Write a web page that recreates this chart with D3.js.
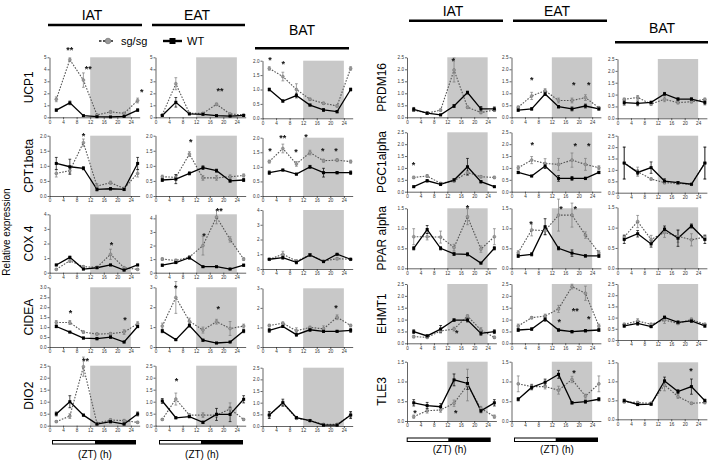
<!DOCTYPE html>
<html><head><meta charset="utf-8">
<script src="https://cdn.jsdelivr.net/npm/d3@7"></script>
<style>body{margin:0;background:#fff}svg{font-family:"Liberation Sans",Arial,sans-serif}</style>
</head><body><svg id="c" width="709" height="460"><defs><filter id="flat" x="0" y="0" width="1" height="1"><feOffset dx="0" dy="0"/></filter></defs></svg>
<script>
// ---------------- DATA ----------------
const ZT = [2, 6, 10, 14, 18, 22, 26];
const xTicks = [0, 4, 8, 12, 16, 20, 24];
const tissues = ["IAT", "EAT", "BAT"];
const genesLeft = ["UCP1", "CPT1beta", "COX 4", "CIDEA", "DIO2"];
const genesRight = ["PRDM16", "PGC1alpha", "PPAR alpha", "EHMT1", "TLE3"];
const seriesNames = ["sg/sg", "WT"];

// each: [IAT, EAT, BAT]
const UCP1_WT = [[0.6,1.2,0.14,0.05,0.03,0.08,0.6],[0.15,1.25,0.28,0.25,0.14,0.1,0.15],[1.0,0.6,0.79,0.46,0.29,0.23,1.0]];
const UCP1_SG = [[1.5,4.8,3.1,0.2,0.45,0.33,1.4],[0.2,2.8,0.33,0.33,1.08,0.28,0.2],[1.73,1.45,1.0,0.66,0.52,0.43,1.73]];
const UCP1_WT_ERR = [[0.1,0.15,0.03,0.03,0.02,0.03,0.1],[0.05,0.4,0.05,0.05,0.03,0.03,0.05],[0.05,0.04,0.08,0.03,0.05,0.04,0.05]];
const UCP1_SG_ERR = [[0.2,0.15,0.6,0.05,0.1,0.05,0.2],[0.05,0.5,0.05,0.05,0.1,0.05,0.05],[0.06,0.15,0.2,0.04,0.04,0.04,0.06]];

const CPT1_WT = [[1.08,0.97,0.92,0.22,0.24,0.22,1.08],[0.53,0.56,0.75,0.94,0.84,0.5,0.53],[0.8,0.89,0.75,1.0,0.8,0.8,0.8]];
const CPT1_SG = [[0.75,0.84,1.77,0.33,0.44,0.25,0.75],[0.64,0.62,1.39,0.6,0.6,0.64,0.68],[1.18,1.63,1.1,1.49,1.21,1.23,1.18]];
const CPT1_WT_ERR = [[0.2,0.25,0.05,0.05,0.04,0.04,0.2],[0.05,0.15,0.05,0.06,0.05,0.04,0.05],[0.06,0.03,0.03,0.05,0.15,0.04,0.06]];
const CPT1_SG_ERR = [[0.12,0.08,0.12,0.08,0.05,0.04,0.12],[0.05,0.08,0.08,0.08,0.08,0.06,0.05],[0.05,0.15,0.08,0.08,0.05,0.05,0.05]];

const COX4_WT = [[0.53,1.05,0.25,0.34,0.53,0.18,0.53],[0.55,0.75,1.1,0.44,0.44,0.27,0.55],[0.66,0.77,0.45,0.95,0.5,1.0,0.66]];
const COX4_SG = [[0.23,0.82,0.41,0.37,1.26,0.34,0.23],[1.0,0.9,1.15,2.0,4.1,2.45,1.0],[0.66,1.0,0.54,0.95,0.54,0.7,0.66]];
const COX4_WT_ERR = [[0.05,0.08,0.05,0.05,0.05,0.05,0.05],[0.08,0.08,0.1,0.05,0.05,0.05,0.08],[0.05,0.1,0.1,0.1,0.05,0.05,0.05]];
const COX4_SG_ERR = [[0.05,0.12,0.08,0.06,0.35,0.06,0.05],[0.1,0.1,0.1,0.7,0.5,0.2,0.1],[0.05,0.2,0.08,0.1,0.05,0.08,0.05]];

const CIDEA_WT = [[1.03,0.75,0.45,0.42,0.5,0.25,1.03],[0.8,0.37,1.08,0.34,0.2,0.25,0.8],[0.85,1.05,0.63,0.88,0.8,0.8,0.85]];
const CIDEA_SG = [[1.23,1.23,0.75,0.65,0.67,0.75,1.17],[1.05,2.49,1.3,0.85,1.27,0.93,1.05],[1.1,1.22,0.83,1.0,0.93,1.52,1.1]];
const CIDEA_WT_ERR = [[0.06,0.03,0.05,0.06,0.06,0.04,0.06],[0.08,0.05,0.08,0.05,0.03,0.03,0.08],[0.1,0.05,0.08,0.08,0.06,0.05,0.1]];
const CIDEA_SG_ERR = [[0.1,0.1,0.06,0.06,0.06,0.12,0.1],[0.15,0.8,0.15,0.15,0.12,0.35,0.1],[0.06,0.06,0.15,0.06,0.15,0.12,0.06]];

const DIO2_WT = [[0.49,1.0,0.44,0.07,0.17,0.07,0.49],[1.03,0.33,0.38,0.14,0.47,0.47,1.1],[0.47,1.0,0.36,0.23,0.04,0.04,0.47]];
const DIO2_SG = [[0.17,0.4,2.46,0.1,0.24,0.21,0.14],[0.26,1.11,0.44,0.44,0.44,0.7,0.26],[0.47,0.97,0.33,0.23,0.07,0.07,0.47]];
const DIO2_WT_ERR = [[0.08,0.25,0.04,0.04,0.05,0.04,0.08],[0.1,0.04,0.05,0.05,0.25,0.3,0.15],[0.15,0.15,0.05,0.03,0.03,0.03,0.15]];
const DIO2_SG_ERR = [[0.04,0.1,0.4,0.04,0.05,0.05,0.04],[0.04,0.25,0.06,0.1,0.1,0.25,0.04],[0.1,0.1,0.05,0.03,0.03,0.03,0.1]];

const PRDM16_WT = [[0.33,0.17,0.1,0.47,1.03,0.35,0.35],[0.3,0.35,0.97,0.44,0.35,0.47,0.35],[0.66,0.63,0.67,1.03,0.81,0.81,0.67]];
const PRDM16_SG = [[0.3,0.17,0.3,1.97,0.42,0.2,0.3],[0.42,0.89,1.11,0.7,0.7,0.82,0.4],[0.8,0.88,0.6,0.8,0.66,0.7,0.8]];
const PRDM16_WT_ERR = [[0.08,0.05,0.03,0.06,0.06,0.1,0.08],[0.05,0.05,0.06,0.05,0.08,0.08,0.05],[0.1,0.1,0.05,0.06,0.05,0.05,0.1]];
const PRDM16_SG_ERR = [[0.05,0.05,0.05,0.5,0.05,0.05,0.05],[0.05,0.15,0.08,0.1,0.1,0.12,0.05],[0.05,0.08,0.05,0.1,0.05,0.05,0.05]];

const PGC1_WT = [[0.21,0.46,0.31,0.49,1.05,0.42,0.21],[0.81,0.66,1.08,0.56,0.56,0.56,0.81],[1.3,0.89,1.1,0.51,0.44,0.37,1.3]];
const PGC1_SG = [[0.6,0.66,0.35,0.45,0.81,0.63,0.6],[1.01,1.33,1.19,1.15,1.33,1.15,1.01],[1.3,0.92,0.6,0.44,0.41,0.37,1.3]];
const PGC1_WT_ERR = [[0.03,0.05,0.05,0.06,0.35,0.05,0.03],[0.05,0.03,0.1,0.12,0.08,0.05,0.05],[0.7,0.1,0.25,0.1,0.05,0.03,0.7]];
const PGC1_SG_ERR = [[0.05,0.06,0.04,0.05,0.08,0.05,0.05],[0.08,0.15,0.2,0.25,0.3,0.25,0.08],[0.7,0.2,0.05,0.05,0.05,0.03,0.7]];

const PPAR_WT = [[0.5,0.97,0.5,0.36,0.35,0.13,0.5],[0.31,0.35,1.04,0.5,0.38,0.31,0.31],[0.71,0.85,0.6,0.96,0.74,1.04,0.71]];
const PPAR_SG = [[0.79,0.79,0.78,0.52,1.29,0.48,0.79],[0.39,0.96,0.94,1.33,1.33,0.83,0.39],[0.77,1.15,0.71,0.88,0.79,0.7,0.77]];
const PPAR_WT_ERR = [[0.04,0.1,0.04,0.04,0.04,0.02,0.04],[0.04,0.04,0.2,0.04,0.08,0.03,0.04],[0.1,0.08,0.08,0.08,0.2,0.05,0.1]];
const PPAR_SG_ERR = [[0.2,0.08,0.15,0.08,0.2,0.08,0.2],[0.05,0.15,0.1,0.4,0.3,0.08,0.05],[0.05,0.15,0.1,0.12,0.15,0.15,0.05]];

const EHMT1_WT = [[0.49,0.31,0.6,0.98,0.98,0.42,0.49],[0.56,0.6,1.01,0.56,0.49,0.53,0.56],[0.63,0.74,0.6,1.01,0.79,0.85,0.63]];
const EHMT1_SG = [[0.28,0.25,0.52,0.6,1.15,0.56,0.25],[0.73,1.08,1.15,1.45,2.39,2.11,0.73],[0.7,0.85,0.7,0.89,0.74,0.92,0.7]];
const EHMT1_WT_ERR = [[0.08,0.05,0.15,0.05,0.08,0.08,0.08],[0.06,0.05,0.08,0.05,0.05,0.05,0.06],[0.06,0.08,0.05,0.06,0.06,0.06,0.06]];
const EHMT1_SG_ERR = [[0.05,0.05,0.08,0.08,0.05,0.1,0.05],[0.08,0.05,0.08,0.15,0.1,0.3,0.08],[0.05,0.1,0.05,0.15,0.05,0.06,0.05]];

const TLE3_WT = [[0.46,0.39,0.36,1.04,0.95,0.26,0.46],[0.55,0.85,0.98,1.18,0.46,0.49,0.55],[0.49,0.39,0.4,1.01,0.73,0.86,0.49]];
const TLE3_SG = [[0.11,0.26,0.28,0.45,0.91,0.32,0.11],[0.94,0.87,0.87,0.78,1.05,0.63,0.94],[0.46,0.44,0.42,0.9,0.6,0.42,0.44]];
const TLE3_WT_ERR = [[0.08,0.08,0.08,0.15,0.15,0.05,0.08],[0.04,0.06,0.08,0.1,0.03,0.04,0.04],[0.04,0.03,0.03,0.1,0.05,0.2,0.04]];
const TLE3_SG_ERR = [[0.04,0.06,0.06,0.08,0.4,0.05,0.04],[0.2,0.06,0.06,0.1,0.08,0.05,0.2],[0.03,0.03,0.03,0.15,0.05,0.03,0.03]];

// y-axis maxima and tick steps per tissue [IAT, EAT, BAT]
const yMaxLeft  = [[5,5,2],[2,2,2],[4,4.3,4],[3,3,3],[2.5,2.5,2.5]];
const yStepLeft = [[1,1,0.5],[0.5,0.5,0.5],[1,1,1],[0.5,1,1],[0.5,0.5,0.5]];
const yMaxRight  = [[2.5,2.5,2.5],[2.5,2.5,2.5],[1.5,1.5,1.5],[2.5,2.5,2.5],[1.5,1.5,1.5]];
const yStepRight = [[0.5,0.5,0.5],[0.5,0.5,0.5],[0.5,0.5,0.5],[0.5,0.5,0.5],[0.5,0.5,0.5]];

// significance marks: [tissue, ZT, value, label]
const UCP1_STARS = [[0,6,5.8,"**"],[0,11.4,4.2,"**"],[0,27.2,2.3,"*"],[1,19,2.36,"**"],[2,2.2,2.1,"*"],[2,6.1,1.97,"*"]];
const CPT1_STARS = [[0,10,2.05,"*"],[1,10.4,1.86,"*"],[2,2.2,1.61,"*"],[2,6,2.07,"**"],[2,9.9,1.58,"*"],[2,12.8,2.09,"*"],[2,17.8,1.61,"*"],[2,21.7,1.61,"*"]];
const COX4_STARS = [[0,18.3,2.05,"*"],[1,18.8,4.7,"**"],[1,14.3,2.83,"*"]];
const CIDEA_STARS = [[0,6.2,1.81,"*"],[0,22.3,1.45,"*"],[1,6,3.05,"*"],[1,18.5,2.0,"*"],[2,21.7,2.1,"*"]];
const DIO2_STARS = [[0,10.6,2.78,"**"],[1,6.2,1.95,"*"]];
const PRDM16_STARS = [[0,13.8,2.42,"*"],[1,6,1.63,"*"],[1,18.5,1.42,"*"],[1,23,1.42,"*"]];
const PGC1_STARS = [[0,1.9,1.22,"*"],[1,6.2,2.06,"*"],[1,19,2.0,"*"],[1,23,2.0,"*"]];
const PPAR_STARS = [[0,18,1.57,"*"],[1,5.8,1.17,"*"],[1,14.7,1.53,"*"],[1,19,1.53,"*"]];
const EHMT1_STARS = [[0,14.8,0.53,"*"],[1,14.2,0.98,"*"],[1,19,1.47,"**"],[1,23,1.13,"*"]];
const TLE3_STARS = [[0,2.4,0.25,"*"],[0,14.5,0.25,"*"],[1,18.6,1.27,"*"],[2,21.9,1.32,"*"]];

const leftData = [
  [UCP1_WT, UCP1_SG, UCP1_WT_ERR, UCP1_SG_ERR, UCP1_STARS],
  [CPT1_WT, CPT1_SG, CPT1_WT_ERR, CPT1_SG_ERR, CPT1_STARS],
  [COX4_WT, COX4_SG, COX4_WT_ERR, COX4_SG_ERR, COX4_STARS],
  [CIDEA_WT, CIDEA_SG, CIDEA_WT_ERR, CIDEA_SG_ERR, CIDEA_STARS],
  [DIO2_WT, DIO2_SG, DIO2_WT_ERR, DIO2_SG_ERR, DIO2_STARS]];
const rightData = [
  [PRDM16_WT, PRDM16_SG, PRDM16_WT_ERR, PRDM16_SG_ERR, PRDM16_STARS],
  [PGC1_WT, PGC1_SG, PGC1_WT_ERR, PGC1_SG_ERR, PGC1_STARS],
  [PPAR_WT, PPAR_SG, PPAR_WT_ERR, PPAR_SG_ERR, PPAR_STARS],
  [EHMT1_WT, EHMT1_SG, EHMT1_WT_ERR, EHMT1_SG_ERR, EHMT1_STARS],
  [TLE3_WT, TLE3_SG, TLE3_WT_ERR, TLE3_SG_ERR, TLE3_STARS]];

// ---------------- LAYOUT ----------------
const svg = d3.select("#c");
const blocks = [
  { genes: genesLeft, data: leftData, yMax: yMaxLeft, yStep: yStepLeft,
    cols: [49.5,155.5,262.5], pph: 3.39,
    rowsIE: [[57.3,117.3],[135.7,196],[214.3,272.7],[287.3,347],[365.7,425.7]],
    rowsB: [[60.7,118.3],[137.7,196],[210,269],[288.3,347],[367.7,426]],
    labelX: 33,
    // [text centre x, text baseline, rule y, rule x1, rule x2]
    headers: [[92,20,25,48,142],[197,20,25,152,245],[302,35,48.3,255,349]],
    bars: [[52,136,95],[159,243,201]], barY: 440, zty: 458 },
  { genes: genesRight, data: rightData, yMax: yMaxRight, yStep: yStepRight,
    cols: [407,511.5,617.5], pph: 3.36,
    rowsIE: [[57.3,117.3],[132.3,191.7],[208.3,268.3],[284,343.3],[361.7,421]],
    rowsB: [[59,118.3],[135.7,192.7],[207.3,268.3],[284,340],[362.3,419.3]],
    labelX: 386,
    headers: [[453,16,20.7,409,503],[557,16,20.7,513,607],[662,33.3,42.3,615,708]],
    bars: [[406.7,490.7,448.3],[514,598,555.7]], barY: 437.5, zty: 453 }
];

const gray = "#7a7a7a";
const starLayer = [];

blocks.forEach(B => {
  // headers
  B.headers.forEach((h, ti) => {
    svg.append("text").attr("x", h[0]).attr("y", h[1]).attr("text-anchor", "middle")
      .attr("font-size", 14).text(tissues[ti]);
    svg.append("line").attr("x1", h[3]).attr("x2", h[4]).attr("y1", h[2]).attr("y2", h[2])
      .attr("stroke", "#000").attr("stroke-width", 2.6);
  });

  B.genes.forEach((gene, gi) => {
    const rIE = B.rowsIE[gi];
    // row label
    svg.append("text").attr("transform", `translate(${B.labelX},${(rIE[0]+rIE[1])/2}) rotate(-90)`)
      .attr("text-anchor", "middle").attr("font-size", 12).text(gene);

    const [WT, SG, WTE, SGE, STARS] = B.data[gi];
    tissues.forEach((t, ti) => {
      const r = ti === 2 ? B.rowsB[gi] : rIE;
      const x0 = B.cols[ti];
      const x = d3.scaleLinear().domain([0, 26.6]).range([x0, x0 + 26.6 * B.pph]);
      const ymax = B.yMax[gi][ti], step = B.yStep[gi][ti];
      const y = d3.scaleLinear().domain([0, ymax]).range([r[1], r[0]]);
      const g = svg.append("g");

      // dark-phase shading
      g.append("rect").attr("x", x(12)).attr("width", x(24) - x(12))
        .attr("y", y(ymax)).attr("height", y(0) - y(ymax)).attr("fill", "#c8c8c8");

      const yt = d3.range(0, ymax + 1e-9, step);
      const fmt = step < 1 ? d3.format(".1f") : d3.format("d");
      const ya = g.append("g").attr("transform", `translate(${x0},0)`)
        .call(d3.axisLeft(y).tickValues(yt).tickFormat(fmt).tickSize(2).tickSizeOuter(0).tickPadding(1));
      const xa = g.append("g").attr("transform", `translate(0,${r[1]})`)
        .call(d3.axisBottom(x).tickValues(xTicks).tickSize(2).tickSizeOuter(0).tickPadding(1));
      [ya, xa].forEach(a => {
        a.selectAll("path,line").attr("stroke", "#222").attr("stroke-width", 0.7);
        a.selectAll("text").attr("font-size", 4.6).attr("fill", "#333").attr("font-family", "Liberation Sans, Arial, sans-serif");
      });

      const line = d3.line().x((d, i) => x(ZT[i])).y(d => y(d));
      // sg/sg dashed
      g.append("path").attr("d", line(SG[ti])).attr("fill", "none")
        .attr("stroke", "#555").attr("stroke-width", 1.1).attr("stroke-dasharray", "1.6,1.4");
      // WT solid
      g.append("path").attr("d", line(WT[ti])).attr("fill", "none")
        .attr("stroke", "#000").attr("stroke-width", 1.3);

      // error bars
      const eb = (vals, errs, col) => {
        vals.forEach((v, i) => {
          const e = errs[i], cx = x(ZT[i]);
          const lo = Math.max(0, v - e), hi = v + e;
          g.append("line").attr("x1", cx).attr("x2", cx).attr("y1", y(lo)).attr("y2", y(hi))
            .attr("stroke", col).attr("stroke-width", 0.7);
          [lo, hi].forEach(q => g.append("line").attr("x1", cx - 1.4).attr("x2", cx + 1.4)
            .attr("y1", y(q)).attr("y2", y(q)).attr("stroke", col).attr("stroke-width", 0.7));
        });
      };
      eb(SG[ti], SGE[ti], gray);
      eb(WT[ti], WTE[ti], "#000");

      // markers
      SG[ti].forEach((v, i) => g.append("circle").attr("cx", x(ZT[i])).attr("cy", y(v)).attr("r", 1.5)
        .attr("fill", "#999").attr("stroke", "#666").attr("stroke-width", 0.4));
      WT[ti].forEach((v, i) => g.append("rect").attr("x", x(ZT[i]) - 1.5).attr("y", y(v) - 1.5)
        .attr("width", 3).attr("height", 3).attr("fill", "#000"));

      STARS.filter(s => s[0] === ti).forEach(s => starLayer.push([x(s[1]), y(s[2]), s[3]]));
    });
  });

  // light/dark bars and ZT labels
  B.bars.forEach(b => {
    svg.append("rect").attr("x", b[0]).attr("y", B.barY).attr("width", b[1] - b[0]).attr("height", 4.5)
      .attr("fill", "#000");
    svg.append("rect").attr("x", b[0] + 1).attr("y", B.barY + 1).attr("width", b[2] - b[0] - 1).attr("height", 2.5)
      .attr("fill", "#fff");
    svg.append("text").attr("x", (b[0] + b[1]) / 2 + 1).attr("y", B.zty).attr("text-anchor", "middle")
      .attr("font-size", 10).text("(ZT) (h)");
  });
});

// significance stars, in one filtered layer (greyscale antialiasing)
svg.append("g").attr("filter", "url(#flat)")
  .selectAll("text").data(starLayer).join("text")
  .attr("x", d => d[0]).attr("y", d => d[1] + 0.57 * 9)
  .attr("text-anchor", "middle").attr("font-size", 9).attr("font-weight", "bold")
  .attr("fill", "#111").text(d => d[2]);

// y-axis title
svg.append("text").attr("transform", "translate(10,232) rotate(-90)").attr("text-anchor", "middle")
  .attr("font-size", 10).text("Relative expression");

// legend
const lg = svg.append("g");
lg.append("line").attr("x1", 99).attr("x2", 113).attr("y1", 41).attr("y2", 41)
  .attr("stroke", "#555").attr("stroke-width", 2.2).attr("stroke-dasharray", "2.5,1.5");
lg.append("circle").attr("cx", 108).attr("cy", 41).attr("r", 2.8).attr("fill", "#999").attr("stroke", "#666").attr("stroke-width", 0.6);
lg.append("text").attr("x", 121).attr("y", 45).attr("font-size", 11).text(seriesNames[0]);
lg.append("line").attr("x1", 163).attr("x2", 182).attr("y1", 41).attr("y2", 41)
  .attr("stroke", "#000").attr("stroke-width", 2.4);
lg.append("rect").attr("x", 169.5).attr("y", 38).attr("width", 6).attr("height", 6).attr("fill", "#000");
lg.append("text").attr("x", 187).attr("y", 45).attr("font-size", 11).text(seriesNames[1]);
</script></body></html>
